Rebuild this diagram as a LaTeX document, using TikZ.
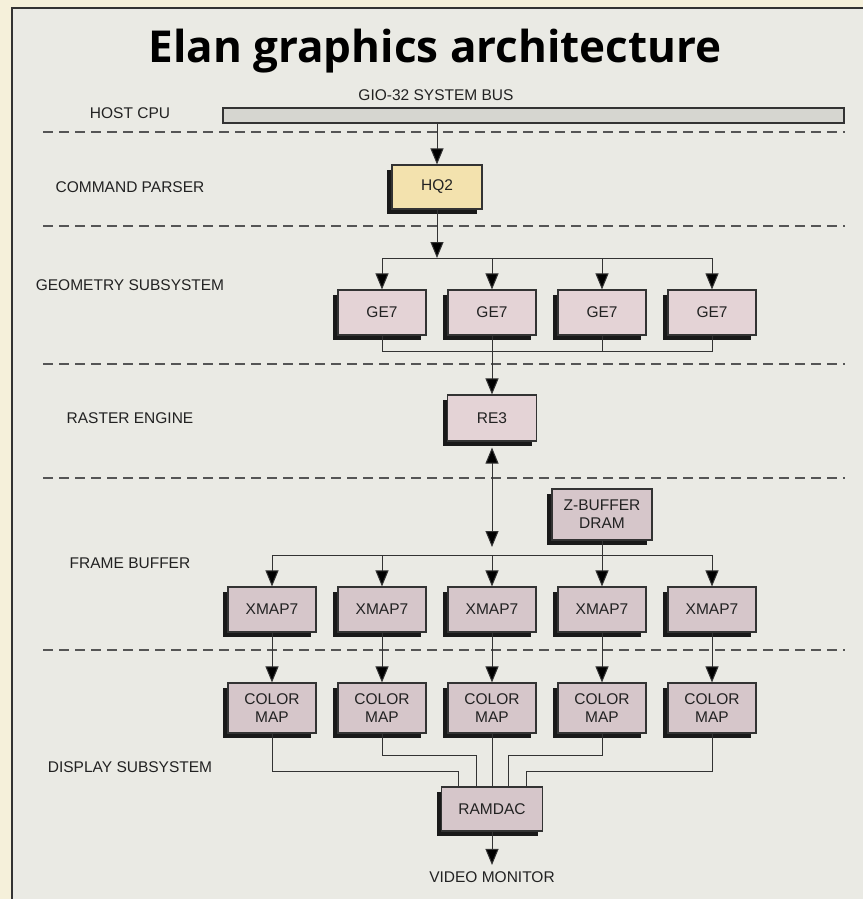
\documentclass[tikz,border=0pt]{standalone}
\usepackage{fontspec}
\setmainfont{Liberation Sans}
\newfontfamily\titlefont{Open Sans}
\usepackage{tikz}
\usetikzlibrary{arrows.meta, shadows}

\definecolor{paper}{HTML}{F5F0DA}
\definecolor{panel}{HTML}{EAEAE4}
\definecolor{edge}{HTML}{333333}
\definecolor{ink}{HTML}{222222}
\definecolor{dashgrey}{HTML}{555555}
\definecolor{busfill}{HTML}{D6D6D0}
\definecolor{hqfill}{HTML}{F3E2AE}
\definecolor{gefill}{HTML}{E4D3D6}
\definecolor{xmfill}{HTML}{D6C6CA}

\begin{document}
\begin{tikzpicture}[x=1pt, y=-1pt,
  font=\fontsize{15.5}{18}\selectfont, text=ink,
  chip/.style={draw=edge, line width=1.1pt, fill=#1, minimum width=88pt,
    minimum height=45pt, align=center, inner sep=2pt,
    drop shadow={shadow xshift=-5pt, shadow yshift=-5pt, fill=black!90, opacity=1}},
  chip/.default=xmfill,
  wire/.style={edge, line width=1pt},
  tip/.tip={Triangle[length=16pt, width=13pt, fill=black]},
  arr/.style={wire, -tip},
  sep/.style={dashgrey, line width=1.2pt, dash pattern=on 10pt off 6pt}]
\useasboundingbox (0,0) rectangle (863,899);
\fill[paper] (0,0) rectangle (863,899);
\fill[panel] (12,8) rectangle (863,899);
\draw[edge, line width=1.4pt] (12,899) -- (12,8) -- (863,8);

% layer separators
\foreach \y in {132,226,364,478,650}
  \draw[sep] (43,\y) -- (845,\y);

\node[anchor=base, font=\titlefont\bfseries\fontsize{44}{50}\selectfont, text=black]
  (title) at (435,63) {Elan graphics architecture};

% layer names
\node (lhost) at (130,113) {HOST CPU};
\node (lcmd) at (130,187) {COMMAND PARSER};
\node (lgeo) at (130,285) {GEOMETRY SUBSYSTEM};
\node (lras) at (130,418) {RASTER ENGINE};
\node (lfb) at (130,563) {FRAME BUFFER};
\node (ldisp) at (130,767) {DISPLAY SUBSYSTEM};

% bus and command parser
\node (buslabel) at (436,95) {GIO-32 SYSTEM BUS};
\node[draw=edge, line width=1.1pt, fill=busfill, minimum width=621pt,
  minimum height=15pt, inner sep=0pt] (bus) at (533.5,115.5) {};
\node[chip=hqfill, minimum width=90pt, minimum height=44pt] (hq) at (437,187) {HQ2};
\draw[arr] (bus.south -| hq.north) -- (hq.north);

% geometry engines
\foreach \i/\x in {1/382,2/492,3/602,4/712}
  \node[chip=gefill] (ge\i) at (\x,312.5) {GE7};
\coordinate (split) at (437,258);
\coordinate (join) at (492,351);
\draw[arr] (hq.south) -- (split);
\draw[wire] (ge1.north |- split) -- (ge4.north |- split);
\foreach \i in {1,...,4}
  \draw[arr] (ge\i.north |- split) -- (ge\i.north);
\draw[wire] (ge1.south) -- (ge1.south |- join) -- (ge4.south |- join) -- (ge4.south);
\draw[wire] (ge3.south) -- (ge3.south |- join);

% raster engine
\node[chip=gefill, minimum width=89pt, minimum height=46pt] (re) at (492,418) {RE3};
\draw[arr] (ge2.south) -- (re.north);

% frame buffer
\node[chip, minimum width=100pt, minimum height=51pt] (zb) at (602,514.5) {Z-BUFFER\\DRAM};
\foreach \i/\x in {1/272,2/382,3/492,4/602,5/712}
  \node[chip] (xm\i) at (\x,609.5) {XMAP7};
\coordinate (fbus) at (492,555);
\draw[wire, tip-tip, shorten <=6pt, shorten >=8pt] (re.south) -- (fbus);
\draw[wire] (xm1.north |- fbus) -- (xm5.north |- fbus);
\draw[wire] (zb.south) -- (zb.south |- fbus);
\foreach \i in {1,...,5}
  \draw[arr] (xm\i.north |- fbus) -- (xm\i.north);

% display subsystem
\foreach \i/\x in {1/272,2/382,3/492,4/602,5/712}
  \node[chip, minimum height=50pt] (cm\i) at (\x,708) {COLOR\\MAP};
\foreach \i in {1,...,5}
  \draw[arr] (xm\i.south) -- (cm\i.north);
\node[chip, minimum width=101pt, minimum height=44pt] (ram) at (492,809) {RAMDAC};
\draw[wire] (cm1.south) -- ++(0,38) -| ([xshift=-34pt]ram.north);
\draw[wire] (cm2.south) -- ++(0,22) -| ([xshift=-16pt]ram.north);
\draw[wire] (cm3.south) -- (ram.north);
\draw[wire] (cm4.south) -- ++(0,22) -| ([xshift=16pt]ram.north);
\draw[wire] (cm5.south) -- ++(0,38) -| ([xshift=34pt]ram.north);
\node (vm) at (492,877) {VIDEO MONITOR};
\draw[arr, shorten >=3pt] (ram.south) -- (vm.north);
\end{tikzpicture}
\end{document}
